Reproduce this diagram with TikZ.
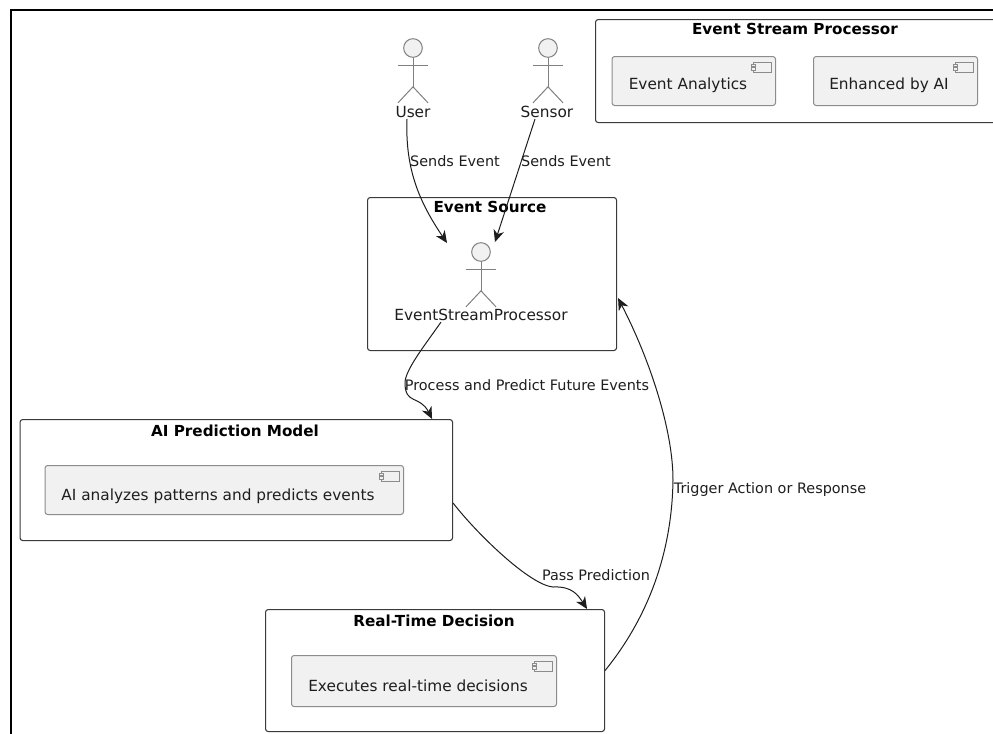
\documentclass[tikz,border=0pt]{standalone}
\usepackage{fontspec}
\setmainfont{DejaVu Sans}
\usetikzlibrary{arrows.meta,calc}
\definecolor{ink}{HTML}{1E1E1E}
\definecolor{framec}{HTML}{3A3A3A}
\definecolor{compfill}{HTML}{F1F1F1}
\definecolor{compline}{HTML}{8C8C8C}
\definecolor{actorline}{HTML}{808080}
\tikzset{
  framebox/.style={draw=framec,line width=.8pt,rounded corners=2pt,fill=white},
  compbox/.style={draw=compline,line width=.75pt,rounded corners=2pt,fill=compfill},
  txt/.style={font=\fontsize{11.5pt}{13pt}\selectfont,text=ink,inner sep=0pt},
  ttl/.style={font=\fontsize{11.4pt}{13pt}\selectfont\bfseries,text=black,inner sep=0pt},
  lbl/.style={font=\fontsize{10.8pt}{13pt}\selectfont,text=ink,inner sep=0pt},
  flow/.style={draw=ink,line width=.75pt,-{Stealth[length=9pt,width=8pt,inset=2.8pt]}},
  head/.style={circle,draw=actorline,fill=compfill,line width=.75pt,minimum size=14pt,inner sep=0pt},
  limb/.style={draw=actorline,line width=.75pt},
  icon/.style={draw=compline,line width=.6pt}
}
% name, x1, y1, x2, y2, style
\newcommand\pxbox[6]{\node[#6,anchor=north west,inner sep=0pt,minimum width={(#4-#2)*0.75pt},minimum height={(#5-#3)*0.75pt}] (#1) at (#2,#3) {};}
% name, centre x, head centre y
\newcommand\stick[3]{%
  \node[head] (#1) at (#2,#3) {};
  \draw[limb] (#1.south) -- ++(0,29) coordinate (#1hip);
  \draw[limb] ($(#1.south)+(-15,8)$) -- ($(#1.south)+(15,8)$);
  \draw[limb] ($(#1hip)+(-15,16)$) -- (#1hip) -- ($(#1hip)+(15,16)$);
}
% component icon at top right of a box
\newcommand\compicon[1]{%
  \draw[icon,fill=compfill] ($(#1.north east)+(-23,6)$) rectangle ($(#1.north east)+(-5,16)$);
  \draw[icon,fill=compfill] ($(#1.north east)+(-25,8)$) rectangle ($(#1.north east)+(-21,10.5)$);
  \draw[icon,fill=compfill] ($(#1.north east)+(-25,11.5)$) rectangle ($(#1.north east)+(-21,14)$);
}
\begin{document}
\begin{tikzpicture}[x=0.75pt,y=-0.75pt]
\path[use as bounding box,clip] (0,0) rectangle (993,733);
\fill[white] (0,0) rectangle (993,733);
\draw[black,line width=2.2pt] (11,740) -- (11,10) -- (1000,10);

% Event Stream Processor
\pxbox{espframe}{595}{19}{1010}{122}{framebox}
\node[ttl] (esptitle) at (795,29) {Event Stream Processor};
\pxbox{analytics}{611.5}{56}{775}{105}{compbox}
\compicon{analytics}
\node[txt] (analyticst) at (688,85.5) {Event Analytics};
\pxbox{enhanced}{813}{56}{977}{105}{compbox}
\compicon{enhanced}
\node[txt] (enhancedt) at (889,85.5) {Enhanced by AI};

% Event Source
\pxbox{source}{367}{197}{616}{350}{framebox}
\node[ttl] (sourcet) at (490,207) {Event Source};
\stick{ephead}{481}{252}
\node[txt] (epname) at (481,315) {EventStreamProcessor};

% Actors
\stick{userhead}{413}{48}
\node[txt] (user) at (413,112) {User};
\stick{sensorhead}{548}{48}
\node[txt] (sensor) at (547,112) {Sensor};

% AI Prediction Model
\pxbox{ai}{19.5}{419}{452}{540}{framebox}
\node[ttl] (ait) at (235,431) {AI Prediction Model};
\pxbox{aicomp}{44.5}{465}{403}{514}{compbox}
\compicon{aicomp}
\node[txt] (aicompt) at (218,496) {AI analyzes patterns and predicts events};

% Real-Time Decision
\pxbox{rt}{265}{609}{604}{731}{framebox}
\node[ttl] (rtt) at (434,621) {Real-Time Decision};
\pxbox{rtcomp}{291}{655}{556}{706}{compbox}
\compicon{rtcomp}
\node[txt] (rtcompt) at (418,686) {Executes real-time decisions};

% Connectors
\draw[flow] ($(user.south)+(-6,1)$) .. controls (405,170) and (420,203) .. ($(ephead)+(-34,-9)$);
\draw[flow] ($(sensor.south)+(-12,1)$) -- ($(ephead)+(14,-10)$);
\draw[flow] ($(epname.south)+(-40,1)$) .. controls (425,345) and (405,370) .. (405,383)
  .. controls (405,405) and (420,395) .. ($(ai.north east)+(-21,0)$);
\draw[flow] ($(ai.east)+(0,23)$) .. controls (478,535) and (530,585) .. (553,587)
  .. controls (572,586) and (578,595) .. ($(rt.north east)+(-18,0)$);
\draw[flow] (rt.east) .. controls (650,615) and (672,550) .. (673,480)
  .. controls (673,430) and (650,360) .. ($(source.east)+(1,24)$);

% Connector labels
\node[lbl] (l1) at (455,161) {Sends Event};
\node[lbl] (l2) at (566,161) {Sends Event};
\node[lbl] (l3) at (527,385) {Process and Predict Future Events};
\node[lbl] (l4) at (596,575) {Pass Prediction};
\node[lbl] (l5) at (770,490) {Trigger Action or Response};
\end{tikzpicture}
\end{document}
